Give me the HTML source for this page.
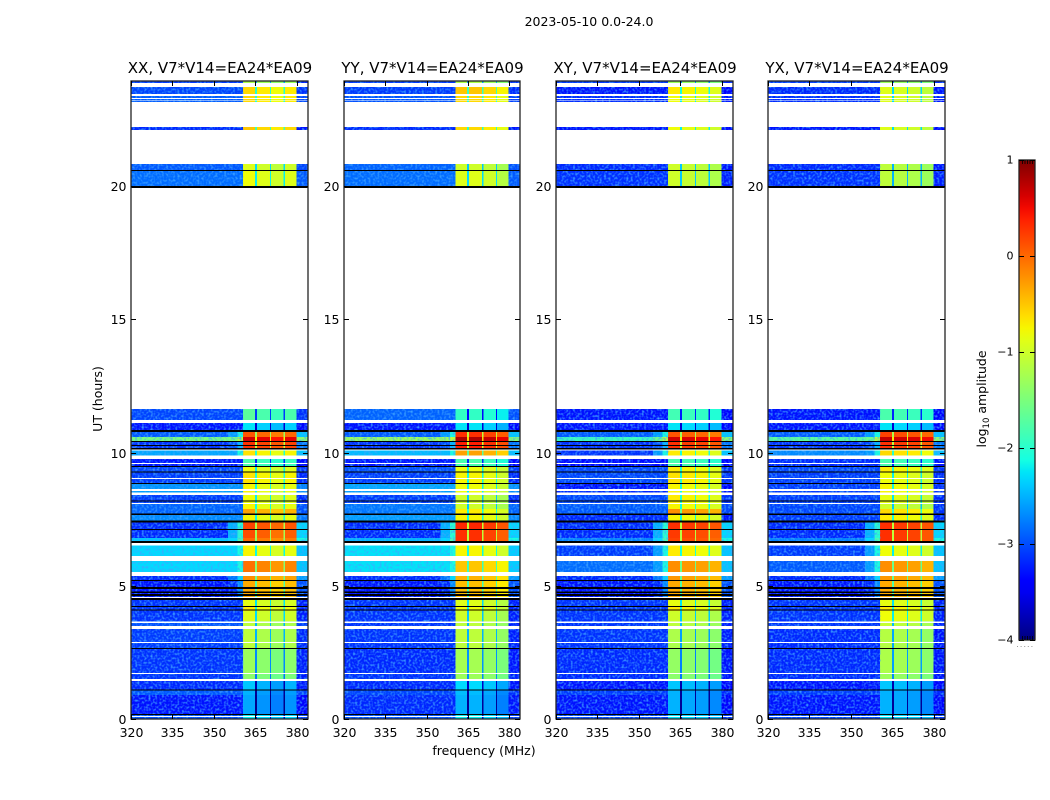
<!DOCTYPE html>
<html>
<head>
<meta charset="utf-8">
<title>2023-05-10 0.0-24.0</title>
<style>
html,body{margin:0;padding:0;background:#fff;}
svg{display:block;}
text{font-family:"DejaVu Sans","Liberation Sans",sans-serif;fill:#000;}
</style>
</head>
<body>
<svg id="figure" xmlns="http://www.w3.org/2000/svg" width="1050" height="800" viewBox="0 0 1050 800">
<defs>
<filter id="speckle" x="0" y="0" width="100%" height="100%" color-interpolation-filters="sRGB">
<feTurbulence type="fractalNoise" baseFrequency="0.45" numOctaves="1" seed="4"/>
<feColorMatrix type="matrix" values="0 0 0 0 0.25  0 0 0 0 0.65  0 0 0 0 1  2.5 0 0 0 -1.1"/>
</filter>
<linearGradient id="jet-gradient" x1="0" y1="1" x2="0" y2="0"></linearGradient>
</defs>
<text x="589" y="26" text-anchor="middle" font-size="12.5">2023-05-10 0.0-24.0</text>
<text x="484" y="755" text-anchor="middle" font-size="12.5">frequency (MHz)</text>
<text transform="translate(102,399) rotate(-90)" text-anchor="middle" font-size="12.5">UT (hours)</text>
<text transform="translate(986,399) rotate(-90)" text-anchor="middle" font-size="12.5">log<tspan font-size="8.5" dy="3">10</tspan><tspan dy="-3"> amplitude</tspan></text>
</svg>
<script>
const panelTitles = ["XX, V7*V14=EA24*EA09", "YY, V7*V14=EA24*EA09", "XY, V7*V14=EA24*EA09", "YX, V7*V14=EA24*EA09"];
const xTickLabels = [320, 335, 350, 365, 380];
const yTickLabels = [0, 5, 10, 15, 20];
const colorbarTicks = [1, 0, -1, -2, -3, -4];

// Start hour of each observed time block, latest block first (the last block ends at hour 0).
const rowTopHours = [23.94,23.71,23.45,23.15,22.10,20.60,19.92,11.22,10.84,10.58,10.39,10.09,9.76,9.49,9.27,8.86,8.56,8.41,8.11,7.88,7.65,7.39,7.09,6.79,6.60,6.12,5.52,5.18,4.54,4.24,4.05,3.68,3.49,2.66,1.69,1.43,1.09,0.90,0.19];

// log10 amplitude of the off-band background for each block.
const backgroundXX = [-3.1,-3.05,-2.95,-3.2,-2.95,-2.85,-3.05,-3.3,-2.95,-1.5,-3.15,-2.55,-3.3,-3.05,-3.1,-2.65,-2.6,-3.1,-2.9,-2.9,-2.7,-3.2,-3.2,-2.4,-2.3,-2.3,-3.2,-3.3,-3.15,-3.15,-3.15,-3.0,-3.1,-3.15,-3.15,-3.2,-2.95,-3.3,-3.0];
const backgroundYY = [-3.1,-3.1,-3,-3.2,-2.9,-2.85,-2.9,-3.3,-2.95,-1.3,-3.15,-2.45,-3.3,-3,-3.1,-2.55,-2.6,-3.1,-2.8,-2.8,-2.6,-3.2,-3.2,-2.5,-2.25,-2.25,-3.2,-3.3,-3.15,-3.15,-3.15,-3.15,-3.15,-3.2,-3.15,-3.2,-3.05,-3.2,-3];
const backgroundXY = [-3.1,-3.3,-3.2,-3.3,-3.2,-3.15,-3.3,-3.3,-2.95,-1.9,-3.15,-3.15,-3.35,-3.05,-3.05,-3.3,-3.2,-3.05,-2.95,-2.95,-3.2,-3.2,-3.2,-2.75,-3.1,-2.85,-3.2,-3.3,-3.15,-3.15,-3.15,-3.15,-3.15,-3.2,-3.2,-3.3,-3.1,-3.3,-3.05];
const backgroundYX = [-3.1,-3.2,-3.2,-3.3,-3.2,-3.15,-3.3,-3.3,-2.95,-1.7,-3.15,-2.7,-3.2,-3.05,-3.1,-3.1,-3.1,-3.1,-3.05,-3.05,-3.1,-3.2,-3.2,-2.75,-3.1,-2.95,-3.2,-3.3,-3.15,-3.15,-3.15,-3.15,-3.2,-3.2,-3.2,-3.3,-3.1,-3.3,-3.05];

// log10 amplitude of the strong 360-380 MHz subbands for each block.
const subbandXX = [-1.3,-0.7,-0.7,-0.6,-1,-0.9,-1.8,-2.35,0,0.55,0.2,-0.75,-1.9,-0.9,-0.75,-0.85,-0.85,-0.9,-0.85,-0.4,-0.85,0.1,0.05,-0.1,-0.85,-0.15,-0.3,-0.45,-0.95,-0.8,-1,-1.2,-1.2,-1.4,-1.5,-2.5,-2.6,-2.65,-2.3];
const subbandYY = [-1.3,-0.6,-0.7,-0.7,-1.1,-1,-2.05,-2.35,0.2,0.7,0.3,-0.4,-1.9,-0.9,-0.85,-0.9,-0.9,-1.1,-1.1,-0.8,-0.85,0.25,0.2,0.2,-0.85,-0.6,-0.5,-0.55,-1,-0.9,-1.1,-1.2,-1.2,-1.35,-1.4,-2.4,-2.55,-2.6,-2.3];
const subbandXY = [-1.4,-0.8,-0.9,-0.9,-1.1,-1.1,-1.95,-2.35,0,0.55,0.2,-0.8,-1.9,-0.8,-0.75,-0.85,-0.85,-0.8,-0.85,-0.3,-0.85,0.2,0.15,0.1,-0.8,-0.3,-0.35,-0.45,-0.95,-0.8,-1.1,-1.2,-1.3,-1.45,-1.5,-2.5,-2.6,-2.6,-2.35];
const subbandYX = [-1.4,-1,-1,-1,-1.2,-1.2,-1.9,-2.35,0.1,0.6,0.2,-0.7,-1.9,-0.8,-0.9,-0.85,-0.85,-0.95,-1.1,-0.7,-0.8,0.2,0.2,0.2,-0.9,-0.3,-0.35,-0.45,-0.95,-0.8,-0.9,-1.15,-1.25,-1.3,-1.4,-2.5,-2.6,-2.6,-2.35];

// Amplitude reached just below the subband edge (a "shoulder" in bright blocks).
const shoulderLevels = [-9,-9,-9,-9,-9,-9,-9,-9,-2.1,-1.1,-2.5,-2.1,-9,-9,-9,-9,-9,-9,-9,-9,-9,-2,-2,-1.8,-2.1,-2.1,-2.3,-2.7,-9,-9,-9,-9,-9,-9,-9,-9,-9,-9,-9];

// Relative level of each of the four subbands, per polarisation.
const subbandShapeXX = [0.1, 0, -0.1, 0];
const subbandShapeYY = [0.1, 0.1, 0, -0.15];
const subbandShapeXY = [0.1, 0.05, 0, -0.1];
const subbandShapeYX = [0.1, 0.05, 0, -0.1];

// Frequency column edges in MHz.
const columnEdges = [320, 355, 358.5, 360.5, 364.8, 365.5, 370.2, 370.7, 375.2, 375.6, 379.9, 384];

// Hour ranges without data (white) and flagged (black).
const gapStart = [23.86,23.45,23.30,23.21,23.15,22.10,19.92,11.22,10.11,9.89,9.61,9.04,8.63,8.50,8.11,6.60,6.12,5.52,4.58,3.66,3.49,2.89,1.73,1.50,0.11];
const gapEnd   = [23.71,23.38,23.26,23.19,22.21,20.83,11.63,11.11,10.08,9.76,9.57,9.01,8.56,8.41,8.07,6.51,5.93,5.37,4.54,3.60,3.38,2.85,1.69,1.43,0.08];
const flagStart = [20.60,20.00,10.84,10.43,10.28,10.17,9.49,9.29,8.86,8.20,7.71,7.45,7.13,6.68,5.22,4.95,4.78,4.69,4.54,4.24,4.11,2.66,1.11,0.19];
const flagEnd   = [20.56,19.92,10.77,10.39,10.24,10.11,9.46,9.25,8.81,8.16,7.65,7.37,7.09,6.60,5.18,4.88,4.73,4.62,4.46,4.21,4.07,2.63,1.07,0.15];

const backgrounds = [backgroundXX, backgroundYY, backgroundXY, backgroundYX];
const subbands = [subbandXX, subbandYY, subbandXY, subbandYX];
const subbandShapes = [subbandShapeXX, subbandShapeYY, subbandShapeXY, subbandShapeYX];

const SVG_NS = "http://www.w3.org/2000/svg";
const figure = document.getElementById("figure");
const panelLeft = [131, 344, 556, 768];
const panelRight = [308, 520, 733, 945];
const axisTop = 81;
const axisBottom = 719;
const hourScale = 26.65;
const freqMin = 320;
const freqMax = 384;
const colorMin = -4;
const colorMax = 1;
const barTop = 160;
const barBottom = 640;
const barLeft = 1019;
const barRight = 1035;

function yOfHour(h) { return axisBottom - h * hourScale; }
function xOfFreq(p, f) {
  return panelLeft[p] + (f - freqMin) / (freqMax - freqMin) * (panelRight[p] - panelLeft[p]);
}
function yOfLevel(v) {
  return barBottom - (v - colorMin) / (colorMax - colorMin) * (barBottom - barTop);
}
function ramp(f, pts) {
  for (let i = 1; i < pts.length; i++) {
    if (f <= pts[i][0]) {
      const a = pts[i - 1];
      const b = pts[i];
      return a[1] + (b[1] - a[1]) * (f - a[0]) / (b[0] - a[0]);
    }
  }
  return pts[pts.length - 1][1];
}
function jet(v) {
  const f = Math.max(0, Math.min(1, (v - colorMin) / (colorMax - colorMin)));
  const r = ramp(f, [[0, 0], [0.35, 0], [0.66, 1], [0.89, 1], [1, 0.5]]);
  const g = ramp(f, [[0, 0], [0.125, 0], [0.375, 1], [0.64, 1], [0.91, 0], [1, 0]]);
  const b = ramp(f, [[0, 0.5], [0.11, 1], [0.34, 1], [0.65, 0], [1, 0]]);
  return "rgb(" + Math.round(r * 255) + "," + Math.round(g * 255) + "," + Math.round(b * 255) + ")";
}
function cellLevel(p, row, col) {
  const bg = backgrounds[p][row];
  const sub = subbands[p][row];
  const shoulder = shoulderLevels[row];
  const shape = subbandShapes[p];
  if (col === 0) return bg;
  if (col === 1) return Math.max(bg, shoulder - 0.5);
  if (col === 2) return Math.max(bg, shoulder);
  if (col === 3) return sub + shape[0];
  if (col === 4) return sub - 1.3;
  if (col === 5) return sub + shape[1];
  if (col === 6) return sub - 1.3;
  if (col === 7) return sub + shape[2];
  if (col === 8) return sub - 1.3;
  if (col === 9) return sub + shape[3];
  return Math.max(bg - 0.1, shoulder - 0.3);
}

for (let p = 0; p < panelTitles.length; p++) {
  const L = panelLeft[p];
  const R = panelRight[p];
  const group = document.createElementNS(SVG_NS, "g");
  
  
  figure.appendChild(group);

  const heat = document.createElementNS(SVG_NS, "g");
  heat.setAttribute("shape-rendering", "crispEdges");
  
  
  group.appendChild(heat);

  for (let row = 0; row < rowTopHours.length; row++) {
    const yTop = yOfHour(rowTopHours[row]);
    const yBot = row + 1 < rowTopHours.length ? yOfHour(rowTopHours[row + 1]) : axisBottom;
    for (let col = 0; col < columnEdges.length - 1; col++) {
      const x0 = xOfFreq(p, columnEdges[col]);
      const x1 = xOfFreq(p, columnEdges[col + 1]);
      const cell = document.createElementNS(SVG_NS, "rect");
      cell.setAttribute("x", x0);
      cell.setAttribute("y", yTop);
      cell.setAttribute("width", x1 - x0);
      cell.setAttribute("height", yBot - yTop);
      cell.setAttribute("fill", jet(cellLevel(p, row, col)));
      
      
      heat.appendChild(cell);
    }
  }

  const texture = document.createElementNS(SVG_NS, "rect");
  texture.setAttribute("x", L);
  texture.setAttribute("y", axisTop);
  texture.setAttribute("width", xOfFreq(p, 360.5) - L);
  texture.setAttribute("height", axisBottom - axisTop);
  texture.setAttribute("filter", "url(#speckle)");
  
  
  group.appendChild(texture);

  const textureRight = document.createElementNS(SVG_NS, "rect");
  textureRight.setAttribute("x", xOfFreq(p, 379.9));
  textureRight.setAttribute("y", axisTop);
  textureRight.setAttribute("width", R - xOfFreq(p, 379.9));
  textureRight.setAttribute("height", axisBottom - axisTop);
  textureRight.setAttribute("filter", "url(#speckle)");
  
  
  group.appendChild(textureRight);

  const overlay = document.createElementNS(SVG_NS, "g");
  overlay.setAttribute("shape-rendering", "crispEdges");
  
  
  group.appendChild(overlay);

  for (let i = 0; i < gapStart.length; i++) {
    const gap = document.createElementNS(SVG_NS, "rect");
    gap.setAttribute("x", L);
    gap.setAttribute("y", yOfHour(gapStart[i]));
    gap.setAttribute("width", R - L);
    gap.setAttribute("height", (gapStart[i] - gapEnd[i]) * hourScale);
    gap.setAttribute("fill", "#fff");
    
    
    overlay.appendChild(gap);
  }
  for (let i = 0; i < flagStart.length; i++) {
    const flag = document.createElementNS(SVG_NS, "rect");
    flag.setAttribute("x", L);
    flag.setAttribute("y", yOfHour(flagStart[i]));
    flag.setAttribute("width", R - L);
    flag.setAttribute("height", Math.max(1, (flagStart[i] - flagEnd[i]) * hourScale));
    flag.setAttribute("fill", "#000");
    
    
    overlay.appendChild(flag);
  }

  const frame = document.createElementNS(SVG_NS, "rect");
  frame.setAttribute("x", L);
  frame.setAttribute("y", axisTop);
  frame.setAttribute("width", R - L);
  frame.setAttribute("height", axisBottom - axisTop);
  frame.setAttribute("fill", "none");
  frame.setAttribute("stroke", "#222");
  frame.setAttribute("stroke-width", "1.3");
  
  
  group.appendChild(frame);

  const title = document.createElementNS(SVG_NS, "text");
  title.setAttribute("x", (L + R) / 2 + 0.5);
  title.setAttribute("y", 73);
  title.setAttribute("text-anchor", "middle");
  title.setAttribute("font-size", "15");
  title.textContent = panelTitles[p];
  
  
  group.appendChild(title);

  for (const t of xTickLabels) {
    const x = Math.round(xOfFreq(p, t)) + 0.5;
    const tickB = document.createElementNS(SVG_NS, "line");
    tickB.setAttribute("x1", x);
    tickB.setAttribute("x2", x);
    tickB.setAttribute("y1", axisBottom);
    tickB.setAttribute("y2", axisBottom - 5);
    tickB.setAttribute("stroke", "#000");
    
    
    group.appendChild(tickB);
    const tickT = document.createElementNS(SVG_NS, "line");
    tickT.setAttribute("x1", x);
    tickT.setAttribute("x2", x);
    tickT.setAttribute("y1", axisTop);
    tickT.setAttribute("y2", axisTop + 5);
    tickT.setAttribute("stroke", "#000");
    
    
    group.appendChild(tickT);
    const label = document.createElementNS(SVG_NS, "text");
    label.setAttribute("x", x);
    label.setAttribute("y", 737);
    label.setAttribute("text-anchor", "middle");
    label.setAttribute("font-size", "12.5");
    label.textContent = t;
    
    
    group.appendChild(label);
  }
  for (const t of yTickLabels) {
    const y = Math.round(yOfHour(t)) + 0.5;
    const tickL = document.createElementNS(SVG_NS, "line");
    tickL.setAttribute("x1", L);
    tickL.setAttribute("x2", L + 5);
    tickL.setAttribute("y1", y);
    tickL.setAttribute("y2", y);
    tickL.setAttribute("stroke", "#000");
    
    
    group.appendChild(tickL);
    const tickR = document.createElementNS(SVG_NS, "line");
    tickR.setAttribute("x1", R);
    tickR.setAttribute("x2", R - 5);
    tickR.setAttribute("y1", y);
    tickR.setAttribute("y2", y);
    tickR.setAttribute("stroke", "#000");
    
    
    group.appendChild(tickR);
    const label = document.createElementNS(SVG_NS, "text");
    label.setAttribute("x", L - 4.5);
    label.setAttribute("y", y + 4.5);
    label.setAttribute("text-anchor", "end");
    label.setAttribute("font-size", "12.5");
    label.textContent = t;
    
    
    group.appendChild(label);
  }
}

// Colorbar
const gradient = document.getElementById("jet-gradient");
for (let i = 0; i <= 40; i++) {
  const stop = document.createElementNS(SVG_NS, "stop");
  stop.setAttribute("offset", i / 40);
  stop.setAttribute("stop-color", jet(colorMin + (colorMax - colorMin) * i / 40));
  gradient.appendChild(stop);
}
const barGroup = document.createElementNS(SVG_NS, "g");


figure.appendChild(barGroup);

const barRect = document.createElementNS(SVG_NS, "rect");
barRect.setAttribute("x", barLeft);
barRect.setAttribute("y", barTop);
barRect.setAttribute("width", barRight - barLeft);
barRect.setAttribute("height", barBottom - barTop);
barRect.setAttribute("fill", "url(#jet-gradient)");
barRect.setAttribute("stroke", "#222");
barRect.setAttribute("stroke-width", "1.3");


barGroup.appendChild(barRect);

for (const t of colorbarTicks) {
  const y = Math.round(yOfLevel(t)) + 0.5;
  const tickL = document.createElementNS(SVG_NS, "line");
  tickL.setAttribute("x1", barLeft);
  tickL.setAttribute("x2", barLeft + 5);
  tickL.setAttribute("y1", y);
  tickL.setAttribute("y2", y);
  tickL.setAttribute("stroke", "#000");
  
  
  barGroup.appendChild(tickL);
  const tickR = document.createElementNS(SVG_NS, "line");
  tickR.setAttribute("x1", barRight);
  tickR.setAttribute("x2", barRight - 5);
  tickR.setAttribute("y1", y);
  tickR.setAttribute("y2", y);
  tickR.setAttribute("stroke", "#000");
  
  
  barGroup.appendChild(tickR);
  const label = document.createElementNS(SVG_NS, "text");
  label.setAttribute("x", barLeft - 5.5);
  label.setAttribute("y", y + 3);
  label.setAttribute("text-anchor", "end");
  label.setAttribute("font-size", "11");
  label.textContent = String(t).replace("-", "\u2212");
  
  
  barGroup.appendChild(label);
}

for (let i = 0; i < 5; i++) {
  const x = barLeft + 3.5 + i * 2.5;
  const topMark = document.createElementNS(SVG_NS, "line");
  topMark.setAttribute("x1", x);
  topMark.setAttribute("x2", x);
  topMark.setAttribute("y1", barTop);
  topMark.setAttribute("y2", barTop + 4);
  topMark.setAttribute("stroke", "#000");
  topMark.setAttribute("stroke-width", "0.8");
  
  
  barGroup.appendChild(topMark);
  const bottomMark = document.createElementNS(SVG_NS, "line");
  bottomMark.setAttribute("x1", x);
  bottomMark.setAttribute("x2", x);
  bottomMark.setAttribute("y1", barBottom);
  bottomMark.setAttribute("y2", barBottom - 4);
  bottomMark.setAttribute("stroke", "#000");
  bottomMark.setAttribute("stroke-width", "0.8");
  
  
  barGroup.appendChild(bottomMark);
}

const barDots = document.createElementNS(SVG_NS, "line");
barDots.setAttribute("x1", 1017);
barDots.setAttribute("x2", 1035);
barDots.setAttribute("y1", 646.5);
barDots.setAttribute("y2", 646.5);
barDots.setAttribute("stroke", "#999");
barDots.setAttribute("stroke-dasharray", "1 2.6");


barGroup.appendChild(barDots);
</script>
</body>
</html>
